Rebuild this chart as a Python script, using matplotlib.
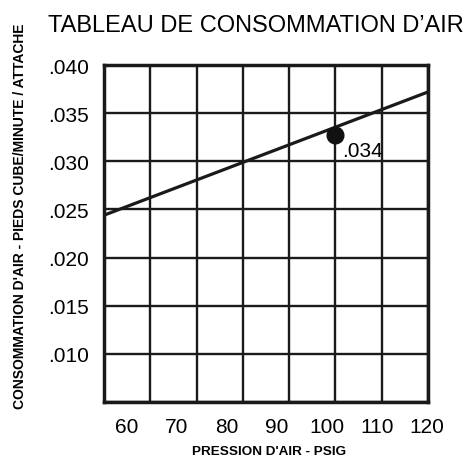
import matplotlib
matplotlib.use("Agg")
import matplotlib.pyplot as plt

plt.rcParams['font.family'] = ['Liberation Sans', 'DejaVu Sans']

# data
line_x = [50, 120]
line_y = [0.0244, 0.0372]
point_x = [100]
point_y = [0.0327]
point_label = ".034"
grid_x = [50, 60, 70, 80, 90, 100, 110, 120]
y_ticks = [0.005, 0.010, 0.015, 0.020, 0.025, 0.030, 0.035, 0.040]
y_labels = ["", ".010", ".015", ".020", ".025", ".030", ".035", ".040"]
x_label_vals = [60, 70, 80, 90, 100, 110, 120]

fig = plt.figure(figsize=(4.64, 4.60), dpi=100)
ax = fig.add_axes([0.2241, 0.1239, 0.6983, 0.7326])

ax.plot(line_x, line_y, color='#1a1a1a', lw=2.3, solid_capstyle='butt')
ax.plot(point_x, point_y, 'o', color='#111111', ms=12)
ax.annotate(point_label, (point_x[0], point_y[0]), xytext=(5, -11),
            textcoords='offset points', ha='left', va='center', fontsize=15)

ax.set_xlim(50, 120)
ax.set_ylim(0.005, 0.040)
ax.set_xticks(grid_x)
ax.set_xticklabels([])
ax.set_yticks(y_ticks)
ax.set_yticklabels(y_labels, fontsize=15)
ax.tick_params(length=0, pad=11)
ax.grid(True, color='#1a1a1a', lw=1.7)
for s in ax.spines.values():
    s.set_linewidth(2.5)
    s.set_color('#1a1a1a')

# x labels in the original sit on their own, evenly spaced scale
ax2 = ax.twiny()
ax2.set_xlim(55.4, 120.2)
ax2.set_xticks(x_label_vals)
ax2.set_xticklabels([str(v) for v in x_label_vals], fontsize=15)
ax2.xaxis.set_ticks_position('bottom')
ax2.xaxis.set_label_position('bottom')
ax2.tick_params(length=0, pad=11)
for s in ax2.spines.values():
    s.set_visible(False)

fig.text(0.5797, 0.0174, "PRESSION D'AIR - PSIG", ha='center', va='center',
         fontsize=9.7, fontweight='bold')
fig.text(0.043, 0.530, "CONSOMMATION D'AIR - PIEDS CUBE/MINUTE / ATTACHE",
         rotation=90, ha='center', va='center', fontsize=10, fontweight='bold')
fig.text(0.5517, 0.9435, "TABLEAU DE CONSOMMATION D\u2019AIR", ha='center', va='center',
         fontsize=17)

fig.savefig("out.png", dpi=100)
